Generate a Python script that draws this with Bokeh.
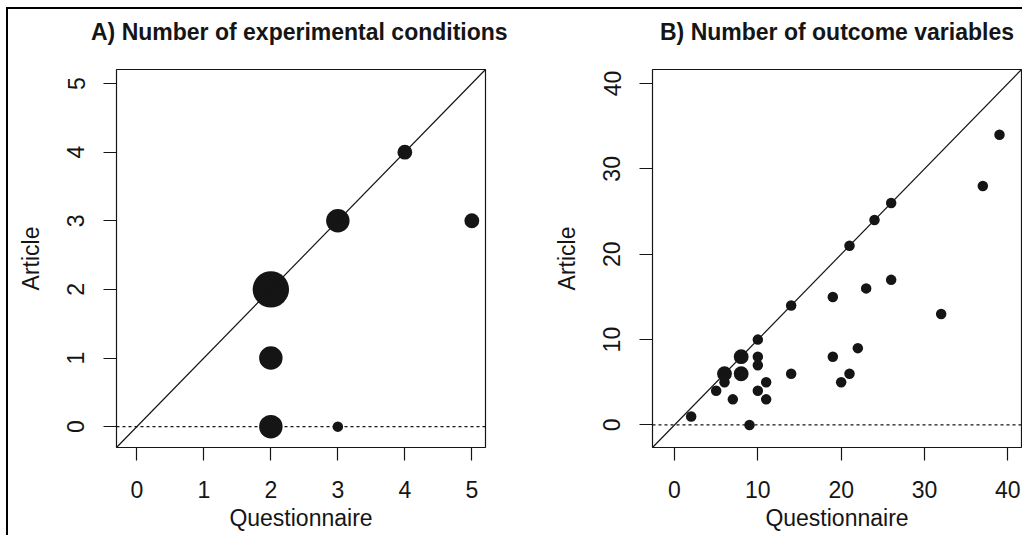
import math
from bokeh.plotting import figure
from bokeh.models import Range1d, FixedTicker, Span, Slope, ColumnDataSource, Div
from bokeh.layouts import row, column
from bokeh.embed import file_html
from bokeh.resources import INLINE

# ---- data ----
# Panel A: number of experimental conditions
a_questionnaire = [2, 2, 2, 3, 3, 4, 5]
a_article = [0, 1, 2, 0, 3, 4, 3]
a_count = [5, 5, 12, 1, 5, 2, 2]
a_ticks = [0, 1, 2, 3, 4, 5]

# Panel B: number of outcome variables
b_questionnaire = [2, 5, 6, 6, 7, 8, 8, 9, 10, 10, 10, 10, 11, 11, 14, 14,
                   19, 19, 20, 21, 21, 22, 23, 24, 26, 26, 32, 37, 39]
b_article = [1, 4, 5, 6, 3, 8, 6, 0, 10, 8, 7, 4, 5, 3, 14, 6,
             15, 8, 5, 21, 6, 9, 16, 24, 26, 17, 13, 28, 34]
b_count = [1, 1, 1, 2, 1, 2, 2, 1, 1, 1, 1, 1, 1, 1, 1, 1,
           1, 1, 1, 1, 1, 1, 1, 1, 1, 1, 1, 1, 1]
b_ticks = [0, 10, 20, 30, 40]

FONT = "Liberation Sans"
INK = "#151515"
FS = "23px"
FRAME_W, FRAME_H = 369, 378
HEAD_H = 45


def panel(title, xs, ys, counts, ticks, lo, hi, border_left, border_right, nudge):
    src = ColumnDataSource(dict(x=xs, y=ys,
                                s=[10.5 * math.sqrt(c) for c in counts]))
    p = figure(frame_width=FRAME_W, frame_height=FRAME_H,
               x_range=Range1d(lo, hi), y_range=Range1d(lo, hi),
               output_backend="svg", toolbar_location=None,
               min_border_left=border_left, min_border_right=border_right,
               min_border_top=60 - HEAD_H, min_border_bottom=88,
               background_fill_color="white", border_fill_color="white")
    p.outline_line_color = INK
    p.outline_line_width = 1.2
    p.xgrid.visible = False
    p.ygrid.visible = False
    for ax in (p.xaxis[0], p.yaxis[0]):
        ax.ticker = FixedTicker(ticks=ticks)
        ax.axis_line_color = None
        ax.major_tick_in = 0
        ax.major_tick_out = 13
        ax.major_tick_line_color = INK
        ax.major_tick_line_width = 1.2
        ax.minor_tick_line_color = None
        ax.major_label_text_font = FONT
        ax.major_label_text_font_size = FS
        ax.major_label_text_color = INK
        ax.axis_label_text_font = FONT
        ax.axis_label_text_font_size = FS
        ax.axis_label_text_font_style = "normal"
        ax.axis_label_text_color = INK
    p.xaxis.axis_label = "Questionnaire"
    p.yaxis.axis_label = "Article"
    p.yaxis.major_label_orientation = "parallel"
    p.xaxis.major_label_standoff = 20
    p.xaxis.axis_label_standoff = 4
    p.yaxis.major_label_standoff = 19
    p.yaxis.axis_label_standoff = 21

    p.add_layout(Slope(gradient=1, y_intercept=0, line_color=INK, line_width=1.2))
    p.add_layout(Span(location=0, dimension="width", line_color=INK,
                      line_width=1.3, line_dash="3 3"))
    p.scatter("x", "y", size="s", source=src, fill_color=INK, line_color=None)

    # heading centred over the plot frame
    fig_w = border_left + FRAME_W + border_right
    centre = border_left + FRAME_W / 2
    pad = int(round(2 * centre - fig_w))
    head = Div(
        text=(f'<div style="margin:0; padding:10px 0 0 {pad}px; '
              f'position:relative; left:{nudge}px; '
              f'width:{fig_w - pad}px; text-align:center; white-space:nowrap; '
              f'font-family:\'{FONT}\'; font-size:{FS}; font-weight:bold; '
              f'line-height:27px; color:{INK};">{title}</div>'),
        width=fig_w, height=HEAD_H, margin=0)
    return column(head, p, spacing=0)


pa = panel("A) Number of experimental conditions", a_questionnaire, a_article,
           a_count, a_ticks, -0.304, 5.204, 108, 28, 3)
pb = panel("B) Number of outcome variables", b_questionnaire, b_article,
           b_count, b_ticks, -2.64, 41.64, 139, 1, 9)

layout = row(pa, pb, styles={"border-left": "2px solid black",
                             "border-top": "2px solid black",
                             "margin-left": "6px",
                             "margin-top": "7px"})

open("out.html", "w").write(file_html(layout, INLINE))
